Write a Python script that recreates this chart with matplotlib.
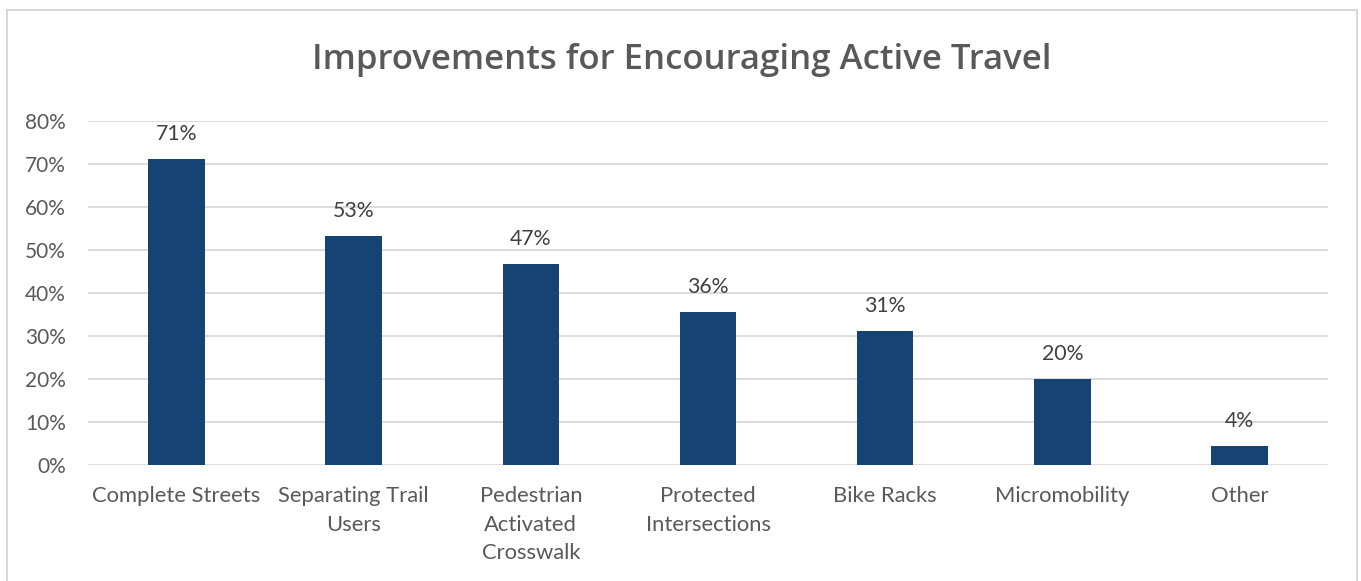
import matplotlib
matplotlib.use("Agg")
import matplotlib.pyplot as plt
from matplotlib.patches import Rectangle
from matplotlib.ticker import PercentFormatter

categories = ["Complete Streets", "Separating Trail\nUsers", "Pedestrian\nActivated\nCrosswalk",
              "Protected\nIntersections", "Bike Racks", "Micromobility", "Other"]
values = [0.712, 0.533, 0.467, 0.355, 0.311, 0.199, 0.044]
labels = ["71%", "53%", "47%", "36%", "31%", "20%", "4%"]
yticks = [0, 0.1, 0.2, 0.3, 0.4, 0.5, 0.6, 0.7, 0.8]

W, H = 1361, 581
fig = plt.figure(figsize=(W / 100, H / 100), dpi=100)
plt.rcParams['font.family'] = ['Lato', 'DejaVu Sans']

ax = fig.add_axes([88 / W, 1 - 465 / H, (1328 - 88) / W, (465 - 121) / H])
x = list(range(len(categories)))
ax.bar(x, values, width=0.32, color="#154373", zorder=3)
ax.set_xlim(-0.5, len(categories) - 0.5)
ax.set_ylim(0, 0.8)
ax.set_yticks(yticks)
ax.yaxis.set_major_formatter(PercentFormatter(1.0, decimals=0))
ax.set_xticks(x)
ax.set_xticklabels(categories, linespacing=1.55, fontsize=15.8)
ax.tick_params(axis='both', length=0, colors="#595959")
ax.tick_params(axis='y', pad=16, labelsize=15)
ax.tick_params(axis='x', pad=15)
ax.grid(axis='y', color="#D9D9D9", linewidth=1.3, zorder=0)
for s in ax.spines.values():
    s.set_visible(False)

for xi, v, lab in zip(x, values, labels):
    ax.annotate(lab, (xi, v), xytext=(0, 18), textcoords='offset points',
                ha='center', va='center', fontsize=15.3, color="#404040")

fig.text(682 / W, 1 - 60 / H, "Improvements for Encouraging Active Travel",
         ha='center', va='center', fontsize=25, color="#595959", fontweight='semibold',
         family=['Open Sans', 'DejaVu Sans'])

fig.patches.append(Rectangle((7 / W, -0.05), (1357 - 7) / W, 1 - 10 / H + 0.05,
                             transform=fig.transFigure, fill=False,
                             edgecolor="#D9D9D9", linewidth=1.5))

fig.savefig("out.png", dpi=100)
